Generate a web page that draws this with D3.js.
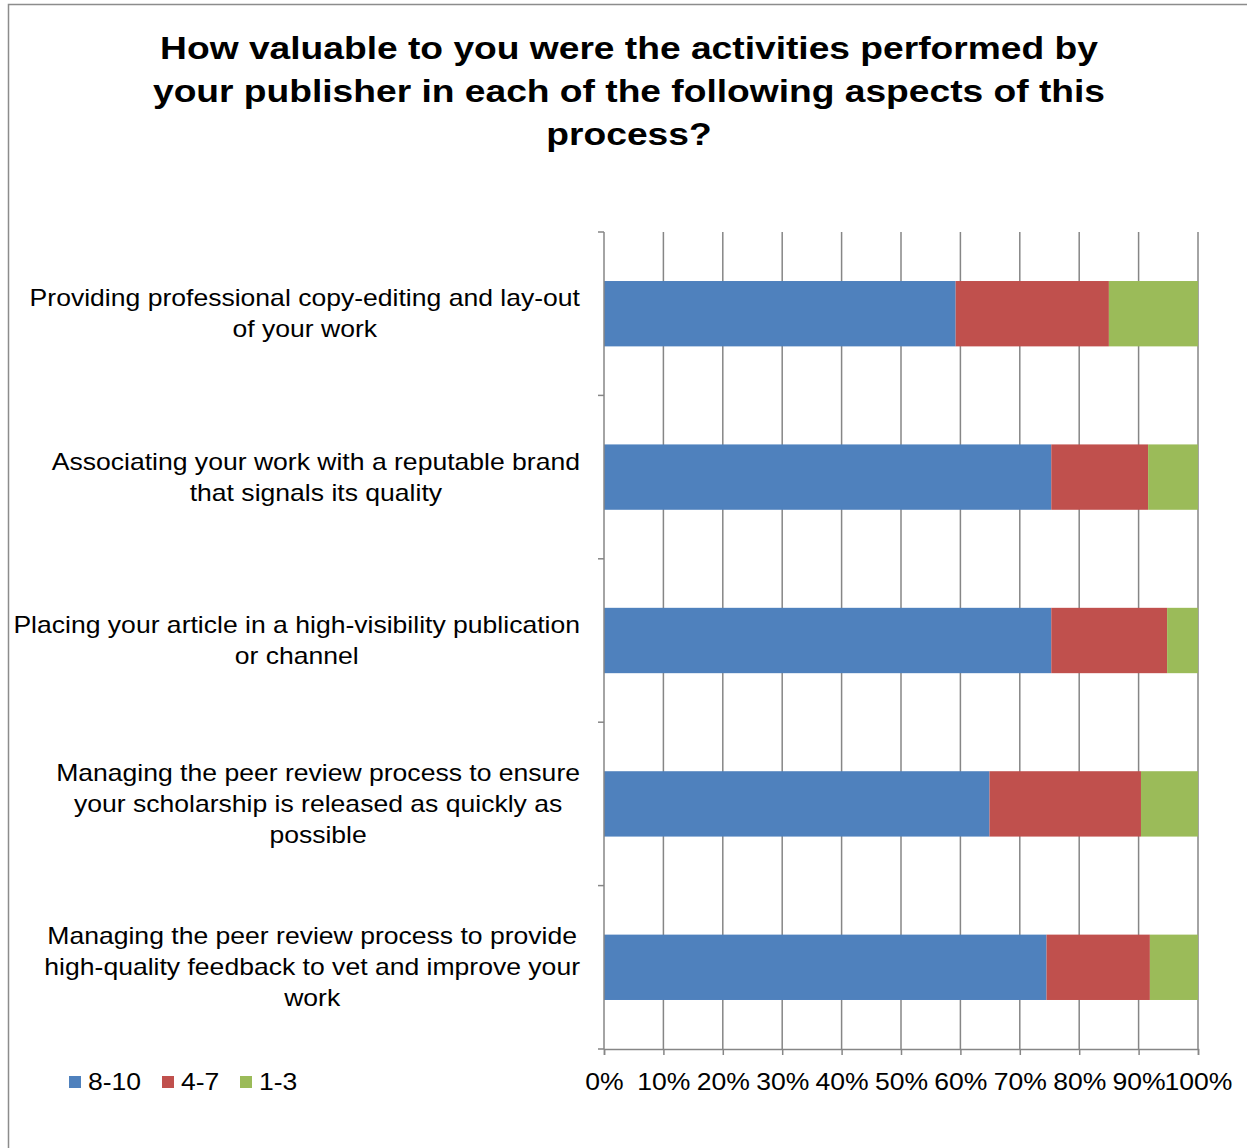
<!DOCTYPE html>
<html>
<head>
<meta charset="utf-8">
<script src="https://cdn.jsdelivr.net/npm/d3@7"></script>
<style>
body { margin: 0; background: #fff; }
text { font-family: "Liberation Sans", Arial, sans-serif; fill: #000; }
</style>
</head>
<body>
<div id="wrap"></div>
<script>
// data
var categories = [
    ["Providing professional copy-editing and lay-out", "of your work"],
    ["Associating your work with a reputable brand", "that signals its quality"],
    ["Placing your article in a high-visibility publication", "or channel"],
    ["Managing the peer review process to ensure", "your scholarship is released as quickly as", "possible"],
    ["Managing the peer review process to provide", "high-quality feedback to vet and improve your", "work"]
];
var series = ["8-10", "4-7", "1-3"];
var high = [59.2, 75.3, 75.3, 64.9, 74.5];
var mid = [25.8, 16.3, 19.5, 25.5, 17.4];
var low = [15.0, 8.4, 5.2, 9.6, 8.1];
var ticks = [0, 10, 20, 30, 40, 50, 60, 70, 80, 90, 100];
var colors = ["#4F81BD", "#C0504D", "#9BBB59"];
var title = [
    "How valuable to you were the activities performed by",
    "your publisher in each of the following aspects of this",
    "process?"
];

var W = 1247, H = 1148;
// the original picture is a bit stretched sideways, text too
var sx = 1.155;
var svg = d3.select("#wrap").append("svg").attr("width", W).attr("height", H);

// outer frame
svg.append("rect")
    .attr("x", 8.5).attr("y", 4.5)
    .attr("width", W).attr("height", H)
    .attr("fill", "none").attr("stroke", "#8c8c8c").attr("stroke-width", 1.5);

// title
svg.append("g")
    .attr("transform", "translate(629,0) scale(" + sx + ",1)")
    .selectAll("text")
    .data(title)
    .enter()
    .append("text")
    .attr("x", 0)
    .attr("y", function(d, i) { return 59 + i * 43; })
    .attr("text-anchor", "middle")
    .style("font-size", "32.2px")
    .style("font-weight", "bold")
    .text(function(d) { return d; });

var pLeft = 604, pRight = 1198, pTop = 232, pBottom = 1049;

var x = d3.scaleLinear().domain([0, 100]).range([pLeft, pRight]);
var y = d3.scaleBand().domain(d3.range(categories.length)).range([pTop, pBottom]).paddingInner(0.6).paddingOuter(0.3);

// stacked data
var rows = categories.map(function(c, i) {
    return { i: i, "8-10": high[i], "4-7": mid[i], "1-3": low[i] };
});
var stacked = d3.stack().keys(series)(rows);

// gridlines
svg.append("g").selectAll("line")
    .data(ticks.slice(1))
    .enter()
    .append("line")
    .attr("x1", function(d) { return x(d); })
    .attr("x2", function(d) { return x(d); })
    .attr("y1", pTop).attr("y2", pBottom)
    .attr("stroke", "#868686").attr("stroke-width", 1.5);

// bars
svg.append("g").selectAll("g")
    .data(stacked)
    .enter()
    .append("g")
    .attr("fill", function(d, i) { return colors[i]; })
    .selectAll("rect")
    .data(function(d) { return d; })
    .enter()
    .append("rect")
    .attr("x", function(d) { return x(d[0]); })
    .attr("width", function(d) { return x(d[1]) - x(d[0]); })
    .attr("y", function(d) { return y(d.data.i); })
    .attr("height", y.bandwidth());

// bottom axis
var xAxis = d3.axisBottom(x).tickValues(ticks).tickSize(6).tickFormat(function(d) { return d + "%"; });
var gx = svg.append("g").attr("transform", "translate(0," + pBottom + ")").call(xAxis);
gx.select(".domain").attr("stroke", "#868686").attr("stroke-width", 1.5);
gx.selectAll(".tick line").attr("stroke", "#868686").attr("stroke-width", 1.5);
gx.selectAll(".tick text")
    .attr("y", 0).attr("dy", null)
    .attr("transform", "translate(0,41) scale(" + sx + ",1)")
    .style("font-size", "23px")
    .style("font-family", "'Liberation Sans', Arial, sans-serif")
    .attr("fill", "#000");

// left axis with ticks on category boundaries
var bounds = d3.range(categories.length + 1).map(function(k) { return pTop + k * (pBottom - pTop) / categories.length; });
svg.append("line")
    .attr("x1", pLeft).attr("x2", pLeft).attr("y1", pTop).attr("y2", pBottom)
    .attr("stroke", "#868686").attr("stroke-width", 1.5);
svg.append("g").selectAll("line")
    .data(bounds)
    .enter()
    .append("line")
    .attr("x1", pLeft - 6).attr("x2", pLeft)
    .attr("y1", function(d) { return d; }).attr("y2", function(d) { return d; })
    .attr("stroke", "#868686").attr("stroke-width", 1.5);

// category labels: block centered on its widest line, right edge at 580
var labels = svg.append("g").attr("transform", "translate(580,0) scale(" + sx + ",1)");
categories.forEach(function(lines, i) {
    var g = labels.append("g");
    var lh = 31;
    var cy = y(i) + y.bandwidth() / 2;
    var y0 = cy - (lines.length - 1) * lh / 2 + 8;
    var ts = g.selectAll("text")
        .data(lines)
        .enter()
        .append("text")
        .attr("y", function(d, k) { return y0 + k * lh; })
        .attr("text-anchor", "middle")
        .style("font-size", "23px")
        .text(function(d) { return d; });
    var maxW = d3.max(ts.nodes(), function(n) { return n.getComputedTextLength(); });
    ts.attr("x", -maxW / 2);
});

// legend
var lx = [69, 162, 240];
var legend = svg.append("g").selectAll("g")
    .data(series)
    .enter()
    .append("g")
    .attr("transform", function(d, i) { return "translate(" + lx[i] + ",1076)"; });
legend.append("rect")
    .attr("width", 12).attr("height", 12)
    .attr("fill", function(d, i) { return colors[i]; });
legend.append("text")
    .attr("transform", "translate(19,14) scale(" + sx + ",1)")
    .style("font-size", "23px")
    .text(function(d) { return d; });
</script>
</body>
</html>
